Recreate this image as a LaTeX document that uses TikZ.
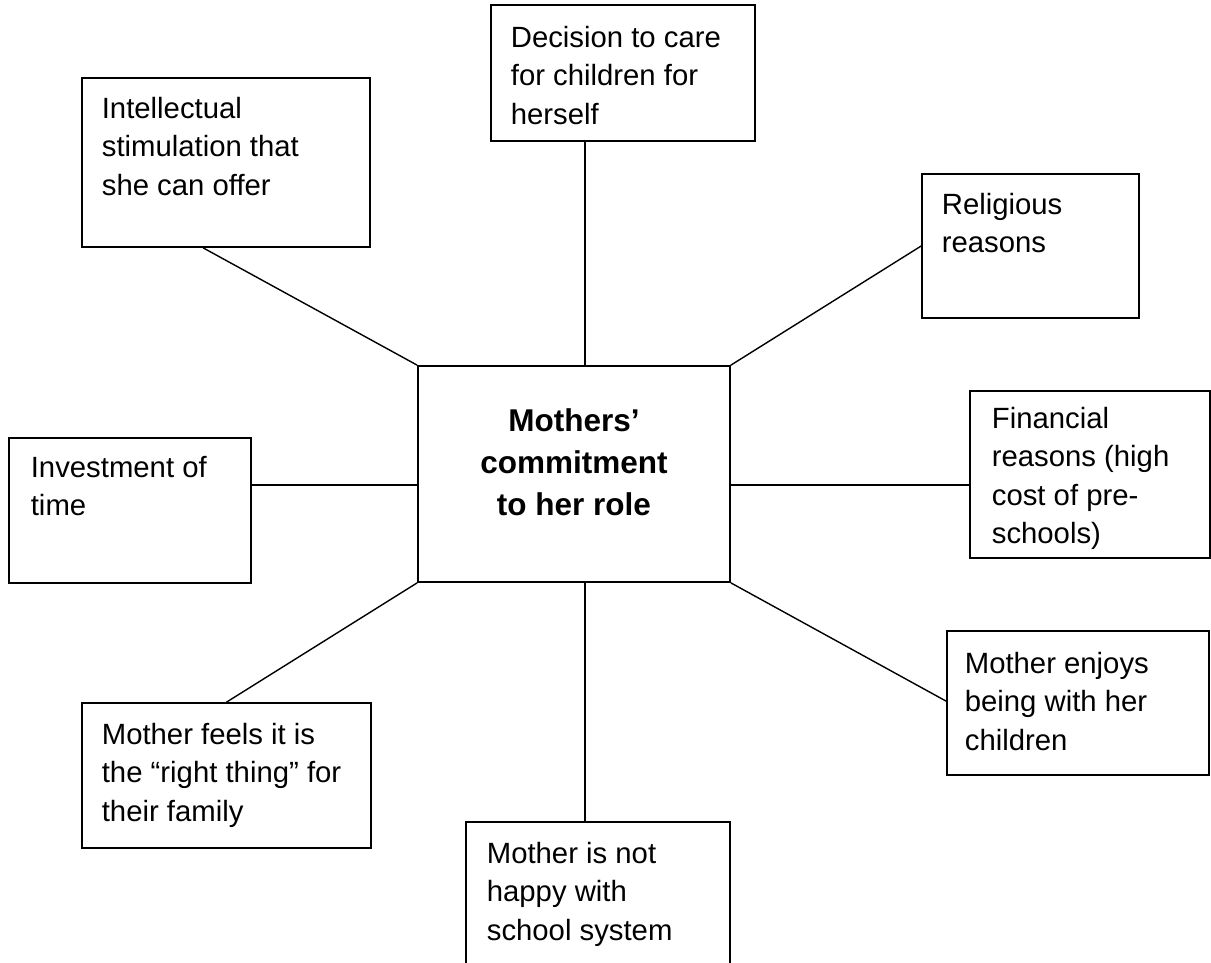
\documentclass[tikz,border=0pt]{standalone}
\usepackage{fontspec}
\setmainfont{Liberation Sans}
\usetikzlibrary{calc}
\tikzset{
  box/.style={draw, line width=1.7pt, inner sep=0pt},
  txt/.style={anchor=north west, inner sep=0pt, align=left, font=\fontsize{29.3}{38.3}\selectfont},
  ctxt/.style={anchor=north, inner sep=0pt, align=center, font=\fontsize{31.5}{42}\selectfont\bfseries},
  link/.style={line width=1.4pt}
}
\begin{document}
\begin{tikzpicture}[x=1pt,y=-1pt]
\useasboundingbox (0,0) rectangle (1211,962);
\clip (0,0) rectangle (1211,962);
\fill[white] (0,0) rectangle (1211,962);
% boxes
\node[box, minimum width=288pt, minimum height=169pt] (b1) at (226,162.5) {};
\node[box, minimum width=264pt, minimum height=136pt] (b2) at (623,73) {};
\node[box, minimum width=217pt, minimum height=144pt] (b3) at (1030.5,246) {};
\node[box, minimum width=312pt, minimum height=216pt] (c) at (574,474) {};
\node[box, minimum width=242pt, minimum height=145pt] (b4) at (130,510.5) {};
\node[box, minimum width=240pt, minimum height=167pt] (b5) at (1090,474.5) {};
\node[box, minimum width=289pt, minimum height=145pt] (b6) at (226.5,775.5) {};
\node[box, minimum width=262pt, minimum height=144pt] (b7) at (1078,703) {};
\node[box, minimum width=264pt, minimum height=178pt] (b8) at (598,911) {};
% texts
\node[txt] (t1) at ($(b1.north west)+(20.5,20)$) {Intellectual\\stimulation that\\she can offer};
\node[txt] (t2) at ($(b2.north west)+(20.5,22)$) {Decision to care\\for children for\\herself};
\node[txt] (t3) at ($(b3.north west)+(20.5,20)$) {Religious\\reasons};
\node[txt] (t4) at ($(b4.north west)+(22.5,19)$) {Investment of\\time};
\node[txt] (t5) at ($(b5.north west)+(22.5,17)$) {Financial\\reasons (high\\cost of pre-\\schools)};
\node[txt] (t6) at ($(b6.north west)+(20.5,21)$) {Mother feels it is\\the “right thing” for\\their family};
\node[txt] (t7) at ($(b7.north west)+(18.5,22)$) {Mother enjoys\\being with her\\children};
\node[txt] (t8) at ($(b8.north west)+(21.5,21)$) {Mother is not\\happy with\\school system};
\node[ctxt] (tc) at (574,408) {Mothers’\\commitment\\to her role};
% connectors
\draw[link] ($(b1.south west)+(122,0)$) -- (c.north west);
\draw[link] ($(b2.south west)+(95,0)$) -- ($(c.north west)+(168,0)$);
\draw[link] (b3.west) -- (c.north east);
\draw[link] ($(b4.north east)+(0,48)$) -- ($(c.north west)+(0,120)$);
\draw[link] ($(c.north east)+(0,120)$) -- ($(b5.north west)+(0,95)$);
\draw[link] (b6.north) -- (c.south west);
\draw[link] ($(c.south west)+(168,0)$) -- ($(b8.north west)+(120,0)$);
\draw[link] (c.south east) -- ($(b7.north west)+(0,71)$);
\end{tikzpicture}
\end{document}
